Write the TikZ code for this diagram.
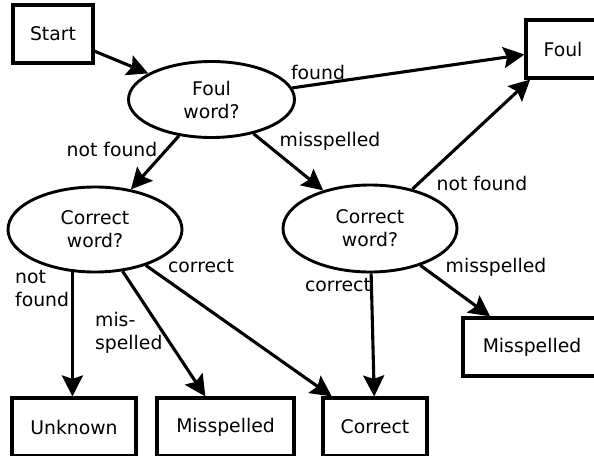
\documentclass[tikz,border=0pt]{standalone}
\usepackage{fontspec}
\setmainfont{DejaVu Sans}
\usetikzlibrary{shapes.geometric,arrows.meta}

\tikzset{
  base/.style={draw=black, line width=3.1pt, inner sep=0pt, align=center,
               font=\fontsize{18.8}{23}\selectfont},
  box/.style={base, rectangle, minimum height=58pt},
  decision/.style={base, ellipse, line width=2.9pt},
  arr/.style={line width=3.1pt, -{Stealth[length=21pt,width=21pt,inset=3.5pt]}},
  lbl/.style={font=\fontsize{18.8}{23}\selectfont, inner sep=0pt},
}

\begin{document}
\begin{tikzpicture}[x=1pt,y=-1pt]
  \useasboundingbox (0,0) rectangle (594,455);
  \fill[white] (0,0) rectangle (594,455);
  \clip (0,0) rectangle (594,455);

  % nodes
  \node[box, minimum width=80pt]  (start)    at (53,34)    {Start};
  \node[decision, minimum width=166pt, minimum height=76pt] (foulq) at (211.5,99.5) {Foul\\word?};
  \node[box, minimum width=74pt]  (foul)     at (563,49)   {Foul};
  \node[decision, minimum width=174pt, minimum height=85pt] (corl) at (95,229.5) {Correct\\word?};
  \node[decision, minimum width=174pt, minimum height=87pt] (corr) at (370,228.5) {Correct\\word?};
  \node[box, minimum width=124pt] (unknown)  at (74,427)   {Unknown};
  \node[box, minimum width=137pt] (missb)    at (225.5,427) {Misspelled};
  \node[box, minimum width=104pt] (correctb) at (375,427)  {Correct};
  \node[box, minimum width=138pt] (missr)    at (532,347)  {Misspelled};

  % connectors
  \draw[arr] (start) -- (foulq);
  \draw[arr] (foulq) -- (foul);
  \draw[arr] (foulq) -- (corl);
  \draw[arr] (foulq) -- (corr);
  \draw[arr] (corr) -- (foul);
  \draw[arr] (corr) -- (missr);
  \draw[arr] (corr) -- (correctb);
  \draw[arr] (corl.-118) -- (corl.-118 |- unknown.north);
  \draw[arr] (corl) -- (missb);
  \draw[arr] (corl) -- (correctb);

  % connector labels
  \node[lbl] (l1) at (318,72)  {found};
  \node[lbl] (l2) at (112,149) {not found};
  \node[lbl] (l3) at (330,141) {misspelled};
  \node[lbl] (l4) at (482,183) {not found};
  \node[lbl] (l5) at (496,267) {misspelled};
  \node[lbl] (l6) at (338,285) {correct};
  \node[lbl, align=left, anchor=west] (l7) at (15,289) {not\\found};
  \node[lbl, align=left, anchor=west] (l8) at (95,333) {mis-\\spelled};
  \node[lbl] (l9) at (201,266) {correct};
\end{tikzpicture}
\end{document}
